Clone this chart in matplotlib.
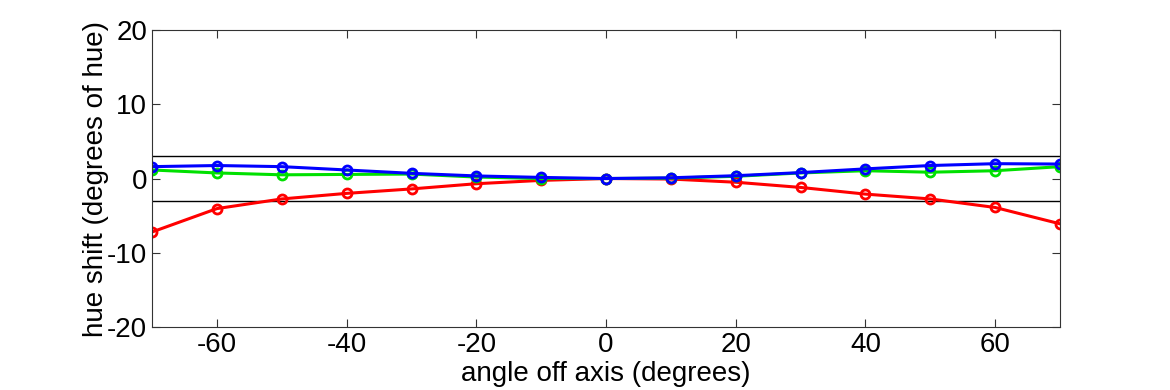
import numpy as np
import matplotlib.pyplot as plt

plt.rcParams['font.family'] = ['Liberation Sans Narrow', 'Liberation Sans', 'DejaVu Sans']
plt.rcParams['axes.unicode_minus'] = False

angles = [-70, -60, -50, -40, -30, -20, -10, 0, 10, 20, 30, 40, 50, 60, 70]
red = [-7.2, -4.05, -2.75, -2.0, -1.4, -0.7, -0.25, 0.0, -0.07, -0.5, -1.2, -2.1, -2.75, -3.9, -6.1]
green = [1.15, 0.75, 0.5, 0.55, 0.6, 0.2, 0.0, 0.0, 0.05, 0.3, 0.75, 1.05, 0.85, 1.05, 1.6]
blue = [1.6, 1.75, 1.6, 1.15, 0.7, 0.35, 0.15, 0.0, 0.1, 0.38, 0.8, 1.3, 1.75, 2.0, 1.95]
limit = 3

fig = plt.figure(figsize=(11.7, 3.9), dpi=100)
ax = fig.add_axes([0.130, 0.1615, 0.776, 0.7615])

ax.axhline(limit, color='black', lw=1)
ax.axhline(-limit, color='black', lw=1)

for vals, col in [(red, '#ff0000'), (green, '#00e000'), (blue, '#0000ff')]:
    ax.plot(angles, vals, color=col, lw=2.2, marker='o', ms=6.5,
            markerfacecolor='none', markeredgewidth=2)

ax.set_xlim(-70, 70)
ax.set_ylim(-20, 20)
ax.set_xticks([-60, -40, -20, 0, 20, 40, 60])
ax.set_yticks([-20, -10, 0, 10, 20])
ax.tick_params(direction='in', top=True, right=True, labelsize=20, length=6, color='#333333')
for s in ax.spines.values():
    s.set_color('#333333')
ax.set_xlabel('angle off axis (degrees)', fontsize=20, labelpad=2)
ax.set_ylabel('hue shift (degrees of hue)', fontsize=20)
ax.yaxis.set_label_coords(-0.047, 0.5)

fig.savefig('out.png', dpi=100)
